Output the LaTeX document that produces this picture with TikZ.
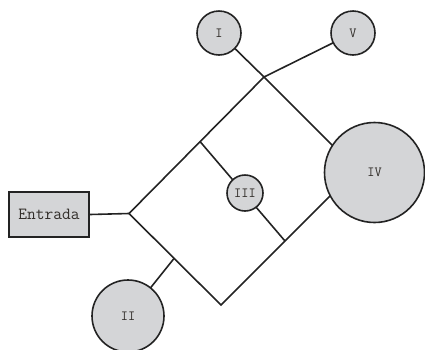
\documentclass[tikz,border=0pt]{standalone}
\usetikzlibrary{calc}
\definecolor{fillg}{RGB}{212,213,215}
\definecolor{lineg}{RGB}{35,35,35}
\definecolor{textg}{RGB}{50,46,42}
\begin{document}
\begin{tikzpicture}[x=1pt,y=-1pt,
  conn/.style={draw=lineg,line width=1.6pt},
  circ/.style={circle,draw=lineg,line width=1.6pt,fill=fillg,inner sep=0pt,text=textg,font=\ttfamily\fontsize{14}{14}\selectfont},
  entbox/.style={rectangle,draw=lineg,line width=1.9pt,fill=fillg,minimum width=80pt,minimum height=45pt,inner sep=0pt,text=textg,font=\ttfamily\fontsize{17}{17}\selectfont}]
\useasboundingbox (0,0) rectangle (425,349);
% junction coordinates
\coordinate (L) at (129,213.5);
\coordinate (T) at (264,77);
\coordinate (R) at (356.5,169.5);
\coordinate (B) at (221,305);
\coordinate (P1) at (200,141.5);
\coordinate (P2) at (285,241);
\coordinate (Q) at (174,258.5);
% connectors (nodes drawn on top)
\draw[conn,line join=miter] (L) -- (T) -- (R) -- (B) -- cycle;
\draw[conn] (P1) -- (P2);
\draw[conn] (219,33) coordinate (Ic) -- (T);
\draw[conn] (353,33) coordinate (Vc) -- (T);
\draw[conn] (128,316) coordinate (IIc) -- (Q);
% nodes
\node[entbox] (E) at (49,214.5) {Entrada};
\draw[conn] (E.east) -- (L);
\node[circ,minimum size=44pt] (I) at (Ic) {I};
\node[circ,minimum size=44pt] (V) at (Vc) {V};
\node[circ,minimum size=36pt] (III) at (245,193) {III};
\node[circ,minimum size=100pt] (IV) at (374.5,172.5) {IV};
\node[circ,minimum size=72pt] (II) at (IIc) {II};
\end{tikzpicture}
\end{document}
